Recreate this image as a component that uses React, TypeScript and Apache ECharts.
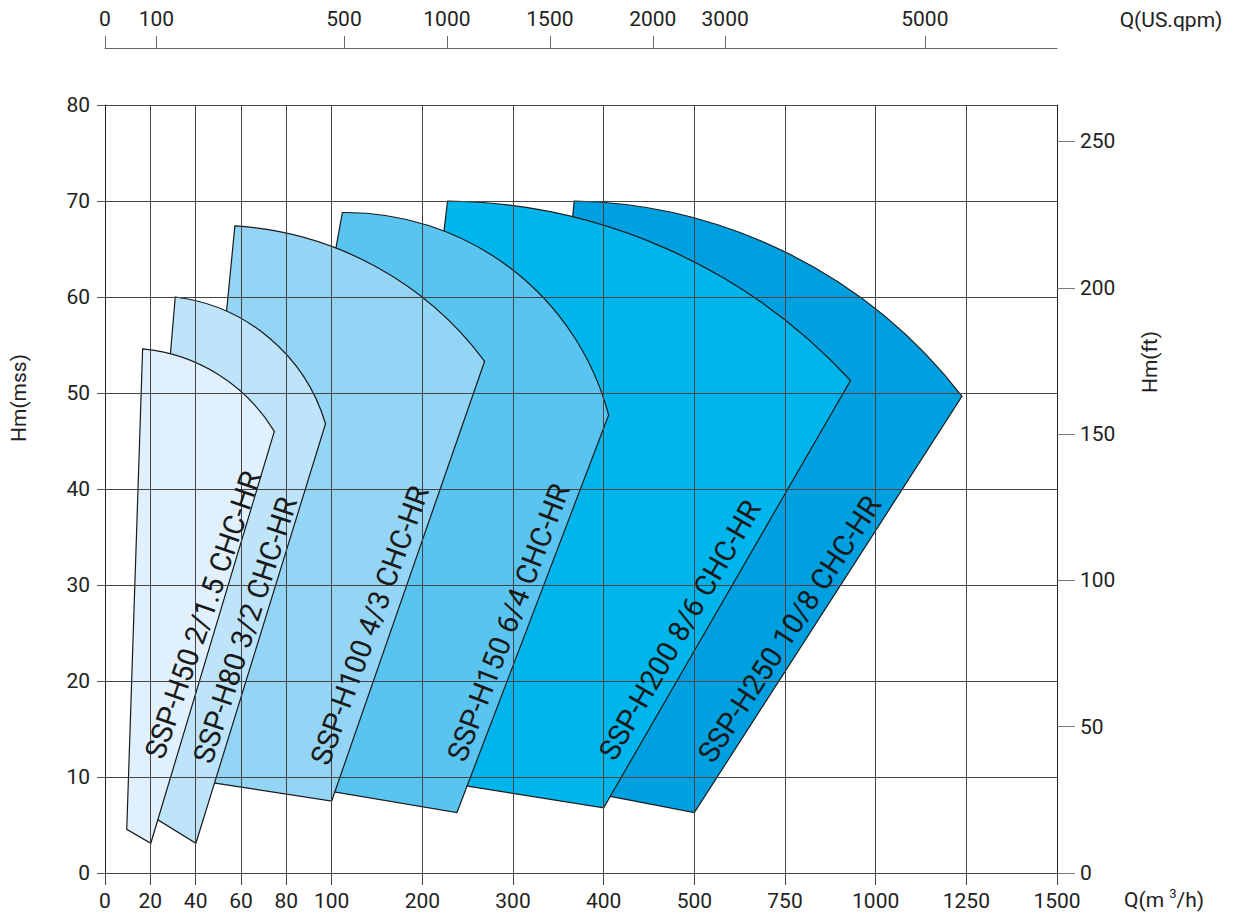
import React, { useEffect, useRef } from "react";
import * as echarts from "echarts";

// ---- axes ----
const flowTicks = [0, 20, 40, 60, 80, 100, 200, 300, 400, 500, 750, 1000, 1250, 1500];
const flowTickLabels = ["0", "20", "40", "60", "80", "100", "200", "300", "400", "500", "750", "1000", "1250", "1500"];
const headTicks = [0, 10, 20, 30, 40, 50, 60, 70, 80];
const feetTicks = [0, 50, 100, 150, 200, 250];
const usgpmTickLabels = ["0", "100", "500", "1000", "1500", "2000", "3000", "5000"];
// m3/h position of each US gpm tick
const usgpmTickFlow = [0, 22.7, 113.6, 227.1, 340.7, 454.2, 585, 1135.6];

// ---- pump regions: [Q m3/h, H m] ----
// top curve: start, a middle point and end of the arc
const h50Curve = [[16.6, 54.6], [60.3, 50.1], [74.7, 46.0]];
const h50BottomRight = [20.2, 3.1];
const h50BottomLeft = [9.6, 4.55];

const h80Curve = [[31.0, 60.0], [80.1, 54.0], [97.3, 46.8]];
const h80BottomRight = [40.1, 3.1];
const h80BottomLeft = [11.9, 7.2];

const h100Curve = [[57.3, 67.4], [199.6, 60.0], [268.7, 53.3]];
const h100BottomRight = [100, 7.5];
const h100BottomLeft = [33.5, 9.9];

const h150Curve = [[111.8, 68.8], [300, 62.8], [405.5, 47.7]];
const h150BottomRight = [238.2, 6.3];
const h150BottomLeft = [59.6, 10.1];

const h200Curve = [[227.8, 70.0], [500, 63.65], [930.6, 51.3]];
const h200BottomRight = [400, 6.8];
const h200BottomLeft = [152.9, 10.5];

const h250Curve = [[367.5, 70.0], [750, 64.7], [1238, 49.65]];
const h250BottomRight = [500, 6.3];
const h250BottomLeft = [307.3, 9.8];

const pumpNames = [
  "SSP-H250 10/8 CHC-HR",
  "SSP-H200 8/6 CHC-HR",
  "SSP-H150 6/4 CHC-HR",
  "SSP-H100 4/3 CHC-HR",
  "SSP-H80 3/2 CHC-HR",
  "SSP-H50 2/1.5 CHC-HR",
];
const pumpCurves = [h250Curve, h200Curve, h150Curve, h100Curve, h80Curve, h50Curve];
const pumpBottomRight = [h250BottomRight, h200BottomRight, h150BottomRight, h100BottomRight, h80BottomRight, h50BottomRight];
const pumpBottomLeft = [h250BottomLeft, h200BottomLeft, h150BottomLeft, h100BottomLeft, h80BottomLeft, h50BottomLeft];
const pumpColors = ["#009fe0", "#00b5ec", "#5ac4f0", "#94d4f4", "#bde4f9", "#e0f0fc"];

// label anchor [Q, H] and rotation (deg)
const labelFlow = [762, 484, 295, 142, 61.8, 43.2];
const labelHead = [25.4, 25.3, 26.1, 25.8, 25.3, 26.9];
const labelAngle = [57, 60, 69, 70, 72, 71];

const FONT = "Roboto, 'Noto Sans', sans-serif";

// axis position of each flow tick (0-100 ticks at half spacing)
const flowTickUnits = flowTicks.map((_, i) => (i <= 5 ? i * 0.5 : i - 2.5));
const xMax = flowTickUnits[flowTickUnits.length - 1];

function qToX(q: number): number {
  for (let i = 0; i < flowTicks.length - 1; i++) {
    if (q <= flowTicks[i + 1] || i === flowTicks.length - 2) {
      const f0 = flowTicks[i], f1 = flowTicks[i + 1];
      return flowTickUnits[i] + ((q - f0) / (f1 - f0)) * (flowTickUnits[i + 1] - flowTickUnits[i]);
    }
  }
  return 0;
}

const topTickPos = usgpmTickFlow.map(qToX);

function labelFor(positions: number[], labels: string[]) {
  return (v: number) => {
    const i = positions.findIndex((p) => Math.abs(p - v) < 1e-6);
    return i >= 0 ? labels[i] : "";
  };
}

// SVG arc through three pixel points
function arcPath(a: number[], b: number[], c: number[]): string {
  const ax = a[0], ay = a[1], bx = b[0], by = b[1], cx = c[0], cy = c[1];
  const d = 2 * (ax * (by - cy) + bx * (cy - ay) + cx * (ay - by));
  const a2 = ax * ax + ay * ay, b2 = bx * bx + by * by, c2 = cx * cx + cy * cy;
  const ux = (a2 * (by - cy) + b2 * (cy - ay) + c2 * (ay - by)) / d;
  const uy = (a2 * (cx - bx) + b2 * (ax - cx) + c2 * (bx - ax)) / d;
  const r = Math.hypot(ax - ux, ay - uy);
  return `M${ax},${ay} A${r},${r} 0 0,1 ${cx},${cy}`;
}

export default function App() {
  const ref = useRef<HTMLDivElement>(null);

  useEffect(() => {
    if (!ref.current) return;
    const chart = echarts.init(ref.current, null, { renderer: "svg" });

    const pumpSeries = pumpNames.map((name, idx) => ({
      type: "custom",
      name,
      silent: true,
      z: 2 + idx,
      data: [[qToX(pumpBottomLeft[idx][0]), pumpBottomLeft[idx][1]]],
      renderItem: (_params: any, api: any) => {
        const curve = pumpCurves[idx].map(([q, h]) => api.coord([qToX(q), h]));
        const br = api.coord([qToX(pumpBottomRight[idx][0]), pumpBottomRight[idx][1]]);
        const bl = api.coord([qToX(pumpBottomLeft[idx][0]), pumpBottomLeft[idx][1]]);
        const d = arcPath(curve[0], curve[1], curve[2]) + ` L${br[0]},${br[1]} L${bl[0]},${bl[1]} Z`;
        return {
          type: "path",
          shape: { pathData: d },
          style: { fill: pumpColors[idx], stroke: "#1a1a1a", lineWidth: 1.2, lineJoin: "miter" },
        };
      },
    }));

    const labelSeries = {
      type: "custom",
      silent: true,
      z: 20,
      data: pumpNames.map((_, i) => [qToX(labelFlow[i]), labelHead[i], i]),
      renderItem: (_params: any, api: any) => {
        const i = api.value(2);
        const p = api.coord([api.value(0), api.value(1)]);
        return {
          type: "text",
          x: p[0],
          y: p[1],
          rotation: (labelAngle[i] * Math.PI) / 180,
          style: {
            text: pumpNames[i],
            fill: "#1a1a1a",
            fontSize: 29,
            fontFamily: FONT,
            align: "center",
            verticalAlign: "middle",
          },
        };
      },
    };

    const axisText = { fontSize: 21, color: "#222", fontFamily: FONT };

    chart.setOption({
      animation: false,
      grid: { left: 105, right: 177, top: 105, bottom: 43, containLabel: false },
      xAxis: [
        {
          type: "value",
          min: 0,
          max: xMax,
          position: "bottom",
          z: 10,
          axisLine: { show: true, onZero: false, lineStyle: { color: "#444", width: 1 } },
          axisTick: { show: true, length: 12, customValues: flowTickUnits, lineStyle: { color: "#444" } },
          axisLabel: { ...axisText, margin: 17, customValues: flowTickUnits, formatter: labelFor(flowTickUnits, flowTickLabels) },
          splitLine: { show: true, lineStyle: { color: "#444", width: 1 } },
        },
        {
          type: "value",
          min: 0,
          max: xMax,
          position: "top",
          offset: 57,
          axisLine: { show: true, onZero: false, lineStyle: { color: "#666", width: 1 } },
          axisTick: { show: true, length: 12, customValues: topTickPos, lineStyle: { color: "#666" } },
          axisLabel: { ...axisText, margin: 19, customValues: topTickPos, formatter: labelFor(topTickPos, usgpmTickLabels) },
          splitLine: { show: false },
        },
      ],
      yAxis: [
        {
          type: "value",
          min: 0,
          max: 80,
          interval: 10,
          position: "left",
          z: 10,
          axisLine: { show: true, onZero: false, lineStyle: { color: "#222", width: 1 } },
          axisTick: { show: true, length: 8, lineStyle: { color: "#555" } },
          axisLabel: { ...axisText, margin: 15, customValues: headTicks },
          splitLine: { show: true, lineStyle: { color: "#444", width: 1 } },
        },
        {
          type: "value",
          min: 0,
          max: 80 / 0.3048,
          position: "right",
          z: 10,
          axisLine: { show: true, onZero: false, lineStyle: { color: "#222", width: 1 } },
          axisTick: { show: true, length: 18, customValues: feetTicks, lineStyle: { color: "#777" } },
          axisLabel: { ...axisText, margin: 23, customValues: feetTicks },
          splitLine: { show: false },
        },
      ],
      graphic: [
        {
          type: "text",
          x: 1171,
          y: 20,
          style: { text: "Q(US.qpm)", fontSize: 21, fontFamily: FONT, fill: "#222", align: "center", verticalAlign: "middle" },
        },
        {
          type: "text",
          x: 1124,
          y: 900,
          style: {
            text: "Q(m {sup|3}/h)",
            fontSize: 21,
            fontFamily: FONT,
            fill: "#222",
            align: "left",
            verticalAlign: "middle",
            rich: { sup: { fontSize: 13, fontFamily: FONT, fill: "#222", padding: [0, 0, 14, 0] } },
          },
        },
        {
          type: "text",
          x: 19,
          y: 398,
          rotation: Math.PI / 2,
          style: { text: "Hm(mss)", fontSize: 21, fontFamily: FONT, fill: "#222", align: "center", verticalAlign: "middle" },
        },
        {
          type: "text",
          x: 1150,
          y: 362,
          rotation: Math.PI / 2,
          style: { text: "Hm(ft)", fontSize: 21, fontFamily: FONT, fill: "#222", align: "center", verticalAlign: "middle" },
        },
      ],
      series: [...pumpSeries, labelSeries],
    });

    return () => chart.dispose();
  }, []);

  return (
    <div
      ref={ref}
      style={{ position: "absolute", left: 0, top: 0, width: 1234, height: 916, background: "#fff" }}
    />
  );
}
